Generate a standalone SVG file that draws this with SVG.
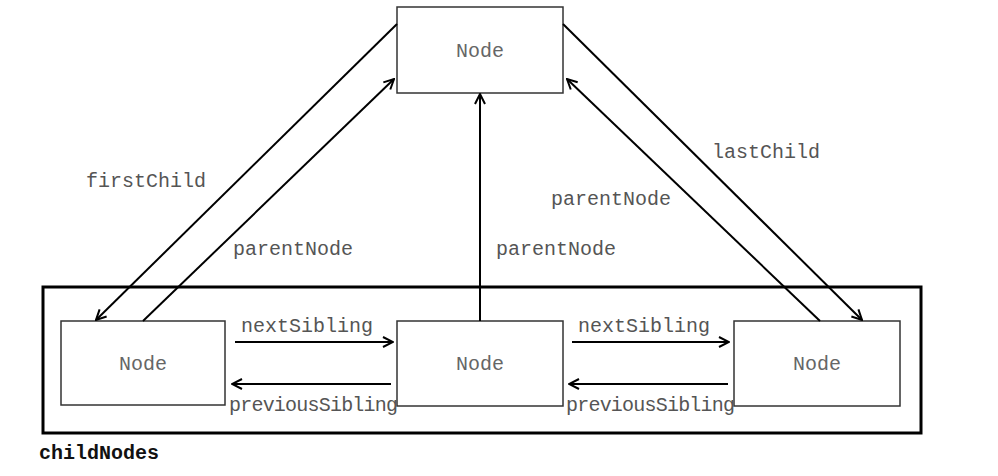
<svg xmlns="http://www.w3.org/2000/svg" width="998" height="476" viewBox="0 0 998 476">
<defs>
<style>
.box{fill:#fff;stroke:#333;stroke-width:1.5}
.cont{fill:none;stroke:#000;stroke-width:3}
.lbl{font-family:"Liberation Mono","Courier New",monospace;font-size:20px;fill:#555}
.nt{font-family:"Liberation Mono","Courier New",monospace;font-size:20px;fill:#666;text-anchor:middle}
.cn{font-family:"Liberation Mono","Courier New",monospace;font-size:20px;font-weight:bold;fill:#111}
.edge{stroke:#000;stroke-width:2;fill:none;marker-end:url(#arr)}
</style>
<marker id="arr" viewBox="0 0 12 12" refX="11" refY="6" markerWidth="12" markerHeight="12" markerUnits="userSpaceOnUse" orient="auto">
<path d="M1,1 L11,6 L1,11" fill="none" stroke="#000" stroke-width="2"/>
</marker>
</defs>
<rect class="cont" x="43" y="287" width="878" height="146"/>
<text class="cn" x="39" y="459">childNodes</text>
<g id="node-top"><rect class="box" x="397" y="7" width="166" height="86"/><text class="nt" x="480" y="57">Node</text></g>
<g id="node-left"><rect class="box" x="61" y="321" width="164" height="84"/><text class="nt" x="143" y="370">Node</text></g>
<g id="node-mid"><rect class="box" x="397" y="321" width="166" height="85"/><text class="nt" x="480" y="370">Node</text></g>
<g id="node-right"><rect class="box" x="734" y="321" width="166" height="85"/><text class="nt" x="817" y="370">Node</text></g>
<g id="connectors">
<line class="edge" x1="397" y1="24" x2="96" y2="320"/>
<line class="edge" x1="143" y1="321" x2="394" y2="79"/>
<line class="edge" x1="480" y1="321" x2="480" y2="94"/>
<line class="edge" x1="563" y1="24" x2="862" y2="320"/>
<line class="edge" x1="820" y1="321" x2="567" y2="79"/>
<line class="edge" x1="235" y1="342" x2="393" y2="342"/>
<line class="edge" x1="391" y1="384" x2="232" y2="384"/>
<line class="edge" x1="572" y1="342" x2="729" y2="342"/>
<line class="edge" x1="728" y1="384" x2="569" y2="384"/>
</g>
<g id="labels">
<text class="lbl" x="86" y="187">firstChild</text>
<text class="lbl" x="233" y="255">parentNode</text>
<text class="lbl" x="496" y="255">parentNode</text>
<text class="lbl" x="712" y="158">lastChild</text>
<text class="lbl" x="551" y="205">parentNode</text>
<text class="lbl" x="241" y="332">nextSibling</text>
<text class="lbl" x="578" y="332">nextSibling</text>
<text class="lbl" x="229" y="411" textLength="169">previousSibling</text>
<text class="lbl" x="566" y="411" textLength="169">previousSibling</text>
</g>
</svg>
